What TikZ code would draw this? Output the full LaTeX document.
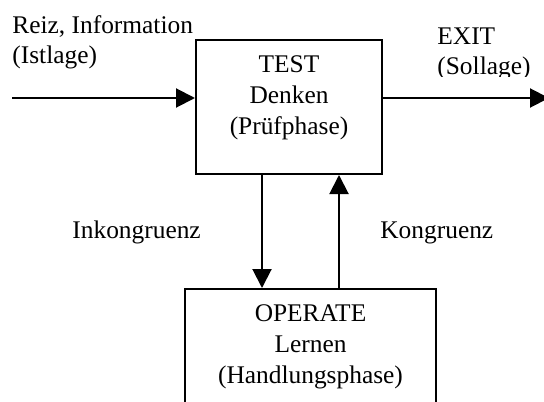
\documentclass[tikz,border=0pt]{standalone}
\usepackage{fontspec}
\setmainfont{Liberation Serif}
\usetikzlibrary{arrows.meta}

\tikzset{
    box/.style={draw, line width=1pt, inner sep=0pt},
    boxtext/.style={align=center, inner sep=0pt, anchor=north, font=\fontsize{12.7}{15.5}\selectfont},
    lbl/.style={align=left, inner sep=0pt, font=\fontsize{12.7}{15}\selectfont},
    arr/.style={-{Triangle[length=9.5pt, width=9.5pt]}, line width=1pt}
}

\begin{document}
\begin{tikzpicture}[x=0.5pt, y=-0.5pt]
            \useasboundingbox (0,0) rectangle (544,401);

            \node[box, minimum width=93pt, minimum height=67pt,
                label={[boxtext, yshift=-8pt]north:{TEST\\Denken\\(Prüfphase)}}]
                (test) at (289,107) {};
            \node[box, minimum width=125.5pt, minimum height=67pt,
                label={[boxtext, yshift=-8pt]north:{OPERATE\\Lernen\\(Handlungsphase)}}]
                (op) at (310.5,356) {};

            \coordinate (in) at (12,98);
            \coordinate (out) at (549,98);

            \draw[arr] (in) -- (in -| test.west);
            \draw[arr] (out -| test.east) -- (out);

            \draw[arr] ([xshift=-13.5pt]test.south) -- ([xshift=-13.5pt]test.south |- op.north);
            \draw[arr] ([xshift=25pt]test.south |- op.north) -- ([xshift=25pt]test.south);

            \node[lbl, anchor=north west] (reiz) at (12,15) {Reiz, Information\\(Istlage)};
            \begin{scope}
                \clip (420,0) rectangle (544,76);
                \node[lbl, anchor=north west] (exit) at (437,27) {EXIT\\(Sollage)};
            \end{scope}

            \node[lbl, anchor=base west] (inkon) at (72,238) {Inkongruenz};
            \node[lbl, anchor=base west] (kon) at (380,238) {Kongruenz};

        \end{tikzpicture}
\end{document}
